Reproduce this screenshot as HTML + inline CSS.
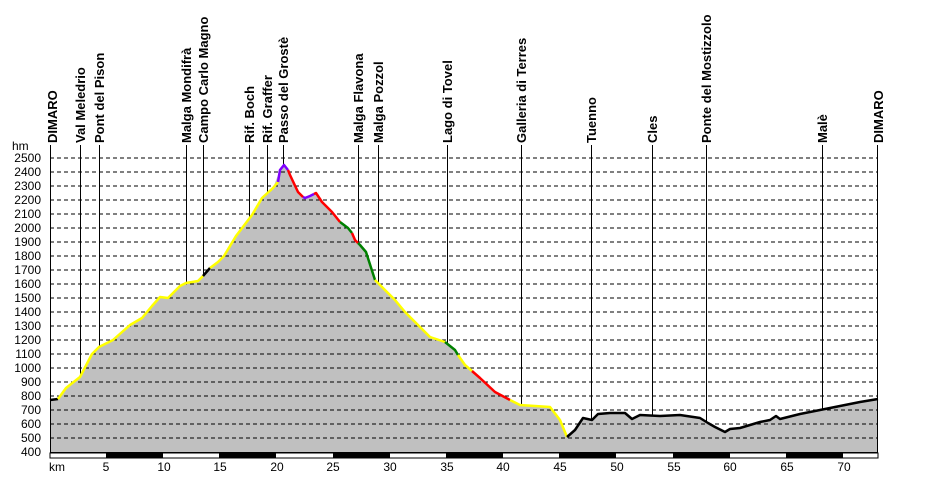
<!DOCTYPE html>
<html><head><meta charset="utf-8"><style>
body{margin:0;background:#fff}
svg text{font-family:"Liberation Sans",sans-serif;font-size:12px;fill:#000}
.y{font-size:11.5px;text-anchor:end}
.lab text{font-size:13px;font-weight:bold}
</style></head><body>
<svg width="927" height="477" viewBox="0 0 927 477">
<polygon fill="#c0c0c0" points="50,452 50,400 58,399 66,388 80,377 92,354 99,347 113,340 130,325 142,318 152,306 160,297 168,298 180,286 186,283 198,281 210,268 218,262 224,256 236,236 252,215 262,198 273,188 280,170 284,165 290,175 298,192 305,198 310,196 316,193 322,202 332,212 340,222 348,228 355,240 360,245 366,252 375,280 385,290 395,300 405,312 418,325 430,337 445,342 455,350 465,365 480,378 495,392 510,400 520,405 535,406 550,407 560,420 567,437 575,430 583,418 592,420 598,414 610,413 625,413 632,419 640,415 660,416 680,415 700,418 708,423 715,427 725,432 730,429 740,428 760,422 770,420 776,416 780,419 800,414 820,410 840,406 860,402 878,399 878,452"/>
<g stroke="#000" stroke-dasharray="4,3" stroke-width="1">
<line x1="50" x2="878" y1="158" y2="158"/><line x1="50" x2="878" y1="172" y2="172"/><line x1="50" x2="878" y1="186" y2="186"/><line x1="50" x2="878" y1="200" y2="200"/><line x1="50" x2="878" y1="214" y2="214"/><line x1="50" x2="878" y1="228" y2="228"/><line x1="50" x2="878" y1="242" y2="242"/><line x1="50" x2="878" y1="256" y2="256"/><line x1="50" x2="878" y1="270" y2="270"/><line x1="50" x2="878" y1="284" y2="284"/><line x1="50" x2="878" y1="298" y2="298"/><line x1="50" x2="878" y1="312" y2="312"/><line x1="50" x2="878" y1="326" y2="326"/><line x1="50" x2="878" y1="340" y2="340"/><line x1="50" x2="878" y1="354" y2="354"/><line x1="50" x2="878" y1="368" y2="368"/><line x1="50" x2="878" y1="382" y2="382"/><line x1="50" x2="878" y1="396" y2="396"/><line x1="50" x2="878" y1="410" y2="410"/><line x1="50" x2="878" y1="424" y2="424"/><line x1="50" x2="878" y1="438" y2="438"/>
</g>
<g stroke="#000" stroke-width="1">
<line x1="50.5" x2="50.5" y1="145" y2="452"/><line x1="80.5" x2="80.5" y1="145" y2="377"/><line x1="99.5" x2="99.5" y1="145" y2="347"/><line x1="186.5" x2="186.5" y1="145" y2="283"/><line x1="203.5" x2="203.5" y1="145" y2="276"/><line x1="249.5" x2="249.5" y1="145" y2="219"/><line x1="267.5" x2="267.5" y1="145" y2="193"/><line x1="283.5" x2="283.5" y1="145" y2="166"/><line x1="358.5" x2="358.5" y1="145" y2="243"/><line x1="378.5" x2="378.5" y1="145" y2="283"/><line x1="447.5" x2="447.5" y1="145" y2="343"/><line x1="521.5" x2="521.5" y1="145" y2="405"/><line x1="591.5" x2="591.5" y1="145" y2="420"/><line x1="652.5" x2="652.5" y1="145" y2="416"/><line x1="706.5" x2="706.5" y1="145" y2="422"/><line x1="822.5" x2="822.5" y1="145" y2="410"/><line x1="877.5" x2="877.5" y1="145" y2="452"/>
<line x1="50" x2="878" y1="452.5" y2="452.5"/>
</g>
<rect x="50" y="453" width="828" height="5" fill="#fff" stroke="#000" stroke-width="1"/>
<g fill="#000"><rect x="106" y="453" width="57" height="5"/><rect x="219" y="453" width="57" height="5"/><rect x="333" y="453" width="57" height="5"/><rect x="446" y="453" width="57" height="5"/><rect x="559" y="453" width="57" height="5"/><rect x="673" y="453" width="57" height="5"/><rect x="786" y="453" width="57" height="5"/></g>
<g fill="none" stroke-width="2.5" stroke-linejoin="round">
<polyline stroke="#000" points="50,400 58,399"/>
<polyline stroke="#ffff00" points="58,399 66,388 80,377 92,354 99,347 113,340 130,325 142,318 152,306 160,297 168,298 180,286 186,283 198,281 203,276"/>
<polyline stroke="#000" points="203,276 210,268"/>
<polyline stroke="#ffff00" points="210,268 218,262 224,256 236,236 252,215 262,198 273,188 278,182"/>
<polyline stroke="#8000ff" points="278,182 280,170 284,165 288,170"/>
<polyline stroke="#ff0000" points="288,170 290,175 298,192 303,197"/>
<polyline stroke="#8000ff" points="303,197 305,198 310,196 314,194"/>
<polyline stroke="#ff0000" points="314,194 316,193 322,202 332,212 340,222"/>
<polyline stroke="#008000" points="340,222 348,228 352,233"/>
<polyline stroke="#ff0000" points="352,233 355,240 358,243"/>
<polyline stroke="#008000" points="358,243 360,245 366,252 375,280"/>
<polyline stroke="#ffff00" points="375,280 385,290 395,300 405,312 418,325 430,337 445,342"/>
<polyline stroke="#008000" points="445,342 455,350 458,355"/>
<polyline stroke="#ffff00" points="458,355 465,365 472,371"/>
<polyline stroke="#ff0000" points="472,371 480,378 495,392 510,400"/>
<polyline stroke="#ffff00" points="510,400 520,405 535,406 550,407 560,420 567,437"/>
<polyline stroke="#000" points="567,437 575,430 583,418 592,420 598,414 610,413 625,413 632,419 640,415 660,416 680,415 700,418 708,423 715,427 725,432 730,429 740,428 760,422 770,420 776,416 780,419 800,414 820,410 840,406 860,402 878,399"/>
</g>
<text x="12" y="150">hm</text>
<g class="y">
<text x="41" y="162">2500</text><text x="41" y="176">2400</text><text x="41" y="190">2300</text><text x="41" y="204">2200</text><text x="41" y="218">2100</text><text x="41" y="232">2000</text><text x="41" y="246">1900</text><text x="41" y="260">1800</text><text x="41" y="274">1700</text><text x="41" y="288">1600</text><text x="41" y="302">1500</text><text x="41" y="316">1400</text><text x="41" y="330">1300</text><text x="41" y="344">1200</text><text x="41" y="358">1100</text><text x="41" y="372">1000</text><text x="41" y="386">900</text><text x="41" y="400">800</text><text x="41" y="414">700</text><text x="41" y="428">600</text><text x="41" y="442">500</text><text x="41" y="456">400</text>
</g>
<g text-anchor="middle">
<text x="57" y="471">km</text><text x="106" y="471">5</text><text x="164" y="471">10</text><text x="220" y="471">15</text><text x="277" y="471">20</text><text x="333" y="471">25</text><text x="390" y="471">30</text><text x="447" y="471">35</text><text x="503" y="471">40</text><text x="560" y="471">45</text><text x="617" y="471">50</text><text x="674" y="471">55</text><text x="730" y="471">60</text><text x="787" y="471">65</text><text x="844" y="471">70</text>
</g>
<g class="lab">
<text transform="translate(57,143) rotate(-90)">DIMARO</text>
<text transform="translate(85,143) rotate(-90)">Val Meledrio</text>
<text transform="translate(104,143) rotate(-90)">Pont del Pison</text>
<text transform="translate(191,143) rotate(-90)">Malga Mondifrà</text>
<text transform="translate(208,143) rotate(-90)">Campo Carlo Magno</text>
<text transform="translate(254,143) rotate(-90)">Rif. Boch</text>
<text transform="translate(272,143) rotate(-90)">Rif. Graffer</text>
<text transform="translate(288,143) rotate(-90)">Passo del Grostè</text>
<text transform="translate(363,143) rotate(-90)">Malga Flavona</text>
<text transform="translate(383,143) rotate(-90)">Malga Pozzol</text>
<text transform="translate(452,143) rotate(-90)">Lago di Tovel</text>
<text transform="translate(526,143) rotate(-90)">Galleria di Terres</text>
<text transform="translate(596,143) rotate(-90)">Tuenno</text>
<text transform="translate(657,143) rotate(-90)">Cles</text>
<text transform="translate(711,143) rotate(-90)">Ponte del Mostizzolo</text>
<text transform="translate(827,143) rotate(-90)">Malè</text>
<text transform="translate(883,143) rotate(-90)">DIMARO</text>
</g>
</svg>
</body></html>
